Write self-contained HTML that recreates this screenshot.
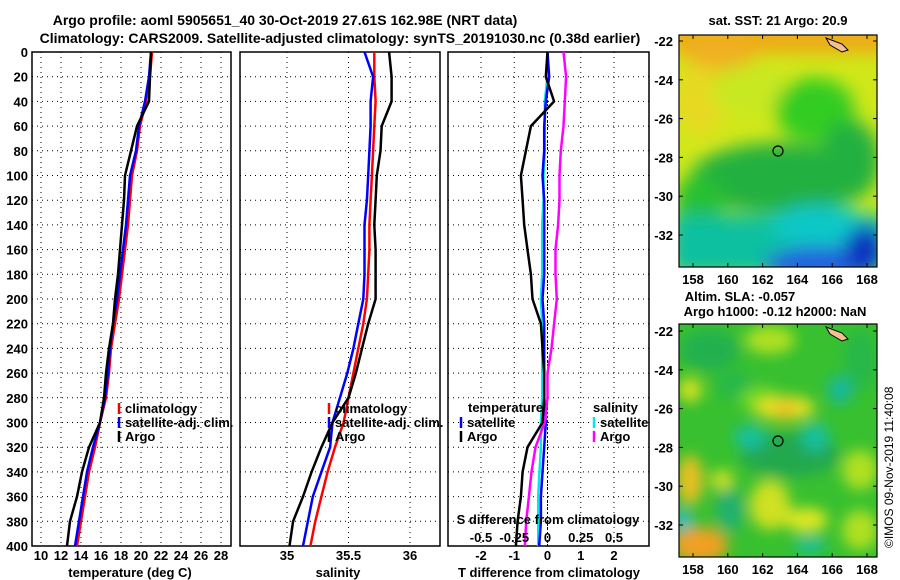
<!DOCTYPE html>
<html><head><meta charset="utf-8"><style>
html,body{margin:0;padding:0;background:#fff;}
svg{display:block;font-family:"Liberation Sans",Arial,sans-serif;font-weight:bold;}
</style></head><body>
<svg id="fig" width="900" height="580" viewBox="0 0 900 580" xmlns="http://www.w3.org/2000/svg">
<defs>
<filter id="blur1" x="-20%" y="-20%" width="140%" height="140%"><feGaussianBlur stdDeviation="9"/></filter>
<filter id="blur2" x="-20%" y="-20%" width="140%" height="140%"><feGaussianBlur stdDeviation="7"/></filter>
<clipPath id="clipM1"><rect x="679" y="35" width="198" height="232"/></clipPath>
<clipPath id="clipM2"><rect x="679" y="324" width="198" height="233"/></clipPath>
</defs>
<text x="285" y="25" font-size="14" text-anchor="middle">Argo profile: aoml 5905651_40 30-Oct-2019 27.61S 162.98E (NRT data)</text>
<text x="340" y="43" font-size="14" text-anchor="middle">Climatology: CARS2009. Satellite-adjusted climatology: synTS_20191030.nc (0.38d earlier)</text>

<g id="p1"></g>
<g id="p2"></g>
<g id="p3"></g>

<!-- SST map -->
<g>
<text x="778" y="25" font-size="13" text-anchor="middle">sat. SST: 21 Argo: 20.9</text>
<g clip-path="url(#clipM1)">
<rect x="679" y="35" width="198" height="232" fill="#d0e81a"/>
<g filter="url(#blur1)">
<rect x="670" y="25" width="220" height="28" fill="#f0a818"/>
<ellipse cx="720" cy="55" rx="35" ry="18" fill="#f0b020"/>
<ellipse cx="700" cy="100" rx="25" ry="35" fill="#e8d820"/>
<ellipse cx="750" cy="90" rx="40" ry="25" fill="#c8e820"/>
<ellipse cx="815" cy="110" rx="40" ry="32" fill="#30cc20"/>
<ellipse cx="780" cy="178" rx="90" ry="35" fill="#20b040"/>
<ellipse cx="850" cy="160" rx="30" ry="40" fill="#20b040"/>
<ellipse cx="700" cy="200" rx="25" ry="25" fill="#28c030"/>
<rect x="670" y="215" width="220" height="60" fill="#10c0a0"/>
<ellipse cx="820" cy="225" rx="50" ry="20" fill="#10c8c8"/>
<ellipse cx="820" cy="265" rx="55" ry="18" fill="#2060e0"/>
<ellipse cx="865" cy="250" rx="20" ry="25" fill="#1030c0"/>
</g>
<path d="M826,38 L842,44 L848,50 L842,52 L830,45 Z" fill="#f5c090" stroke="#000" stroke-width="1"/>
</g>
<rect x="679" y="35" width="198" height="232" fill="none" stroke="#000" stroke-width="1.2"/>
<circle cx="778" cy="151" r="5" fill="none" stroke="#000" stroke-width="1.2"/>
<g id="m1axes"></g>
</g>

<!-- SLA map -->
<g>
<text x="740" y="301" font-size="13" text-anchor="middle">Altim. SLA: -0.057</text>
<text x="775" y="316" font-size="13" text-anchor="middle">Argo h1000: -0.12 h2000: NaN</text>
<g clip-path="url(#clipM2)">
<rect x="679" y="324" width="198" height="233" fill="#38c030"/>
<g filter="url(#blur2)">
<ellipse cx="710" cy="350" rx="30" ry="20" fill="#20b050"/>
<ellipse cx="735" cy="385" rx="20" ry="14" fill="#28b848"/>
<ellipse cx="770" cy="340" rx="25" ry="14" fill="#b0e020"/>
<ellipse cx="760" cy="400" rx="20" ry="14" fill="#70d828"/>
<ellipse cx="785" cy="408" rx="30" ry="12" fill="#e8e020"/>
<ellipse cx="785" cy="410" rx="10" ry="8" fill="#f0b820"/>
<ellipse cx="790" cy="455" rx="50" ry="22" fill="#20a850"/>
<ellipse cx="750" cy="437" rx="16" ry="12" fill="#18c0a0"/>
<ellipse cx="815" cy="437" rx="14" ry="14" fill="#18c0a0"/>
<ellipse cx="840" cy="390" rx="12" ry="14" fill="#18b8a0"/>
<ellipse cx="690" cy="390" rx="12" ry="12" fill="#d8e020"/>
<ellipse cx="690" cy="480" rx="13" ry="25" fill="#e8c020"/>
<ellipse cx="722" cy="480" rx="12" ry="10" fill="#d0e020"/>
<ellipse cx="730" cy="510" rx="14" ry="22" fill="#20b070"/>
<ellipse cx="770" cy="505" rx="20" ry="25" fill="#d0e020"/>
<ellipse cx="806" cy="520" rx="22" ry="12" fill="#e0e820"/>
<ellipse cx="810" cy="545" rx="16" ry="8" fill="#18c0a0"/>
<ellipse cx="700" cy="545" rx="28" ry="18" fill="#f0a020"/>
<ellipse cx="683" cy="520" rx="8" ry="10" fill="#20b8e0"/>
<ellipse cx="860" cy="470" rx="18" ry="20" fill="#b0e020"/>
<ellipse cx="860" cy="530" rx="18" ry="20" fill="#b0e020"/>
<ellipse cx="860" cy="360" rx="16" ry="30" fill="#28b848"/>
</g>
<path d="M826,327 L842,333 L848,339 L842,341 L830,334 Z" fill="#f5c090" stroke="#000" stroke-width="1"/>
</g>
<rect x="679" y="324" width="198" height="233" fill="none" stroke="#000" stroke-width="1.2"/>
<circle cx="778" cy="441" r="5" fill="none" stroke="#000" stroke-width="1.2"/>
<g id="m2axes"></g>
</g>
<text x="0" y="0" font-size="12" font-weight="normal" transform="translate(893,548) rotate(-90)">©IMOS 09-Nov-2019 11:40:08</text>
</svg>
<script>
// ---- data ----
const depths = [0,20,40,60,80,100,120,140,160,180,200,220,240,260,280,300,320,340,360,380,400];
const tempArgo = [21.0,20.9,20.8,19.6,19.0,18.4,18.3,18.1,17.9,17.7,17.4,17.2,16.8,16.5,16.3,15.9,14.8,14.1,13.6,12.9,12.6];
const tempClim = [21.1,20.9,20.5,19.9,19.6,19.1,18.9,18.7,18.4,18.1,17.8,17.4,17.0,16.8,16.5,15.9,15.4,14.8,14.4,14.0,13.6];
const tempSat  = [21.0,20.8,20.4,19.8,19.5,18.9,18.7,18.5,18.2,17.9,17.6,17.2,16.9,16.7,16.4,15.9,15.2,14.6,14.2,13.8,13.4];
const salArgo = [35.83,35.85,35.85,35.77,35.76,35.73,35.72,35.71,35.72,35.72,35.72,35.66,35.61,35.56,35.50,35.37,35.28,35.20,35.13,35.05,35.02];
const salClim = [35.71,35.71,35.72,35.71,35.70,35.69,35.68,35.67,35.67,35.66,35.65,35.62,35.58,35.54,35.50,35.46,35.39,35.33,35.28,35.23,35.19];
const salSat  = [35.63,35.70,35.68,35.68,35.67,35.66,35.65,35.63,35.63,35.63,35.62,35.58,35.54,35.49,35.43,35.37,35.35,35.28,35.21,35.17,35.13];
const dTArgo = [0.0,-0.05,0.2,-0.5,-0.65,-0.8,-0.75,-0.7,-0.6,-0.5,-0.45,-0.2,-0.15,-0.1,-0.1,-0.15,-0.6,-0.75,-0.8,-0.9,-0.95];
const dTSat  = [0.0,0.05,-0.05,-0.1,-0.1,-0.15,-0.1,-0.1,-0.1,-0.1,-0.15,-0.1,-0.1,-0.1,-0.1,-0.05,-0.1,-0.15,-0.2,-0.2,-0.25];
const dSArgo = [0.12,0.14,0.13,0.12,0.1,0.09,0.09,0.08,0.06,0.06,0.07,0.05,0.03,0.0,0.0,-0.02,-0.09,-0.12,-0.14,-0.16,-0.17];
const dSSat  = [0.0,0.0,-0.02,-0.02,-0.02,-0.03,-0.03,-0.04,-0.04,-0.04,-0.05,-0.04,-0.04,-0.04,-0.04,-0.05,-0.05,-0.06,-0.07,-0.07,-0.07];
const depthTicks = [0,20,40,60,80,100,120,140,160,180,200,220,240,260,280,300,320,340,360,380,400];
const tempTicks = [10,12,14,16,18,20,22,24,26,28];
const salTicks = [35,35.5,36];
const dTTicks = [-2,-1,0,1,2];
const dSTicks = [-0.5,-0.25,0,0.25,0.5];
const lonTicks = [158,160,162,164,166,168];
const latTicks = [-22,-24,-26,-28,-30,-32];

const NS = "http://www.w3.org/2000/svg";
function mk(parent, tag, attrs, text){
  const e = document.createElementNS(NS, tag);
  for (const k in attrs) e.setAttribute(k, attrs[k]);
  if (text !== undefined) e.textContent = text;
  parent.appendChild(e);
  return e;
}
const Y0 = 52, Y1 = 546;
const yD = d => Y0 + d * (Y1 - Y0) / 400;
function linX(v0, x0, v1, x1){ return v => x0 + (v - v0) * (x1 - x0) / (v1 - v0); }

function panel(g, L, R, xScale, xTicks, xName){
  for (const d of depthTicks){
    const ln = mk(g,'line',{x1:L,x2:R,y1:yD(d),y2:yD(d),stroke:'#000','stroke-width':1,'stroke-dasharray':'1,4'});
    
    
  }
  for (const t of xTicks){
    const ln = mk(g,'line',{x1:xScale(t),x2:xScale(t),y1:Y0,y2:Y1,stroke:'#000','stroke-width':1,'stroke-dasharray':'1,4'});
    
    
  }
  const fr = mk(g,'rect',{x:L,y:Y0,width:R-L,height:Y1-Y0,fill:'none',stroke:'#000','stroke-width':1.5});
  
  
}
function series(g, xs, xScale, color, name, w){
  const pts = depths.map((d,i)=> xScale(xs[i]).toFixed(1)+','+yD(d).toFixed(1)).join(' ');
  const p = mk(g,'polyline',{points:pts,fill:'none',stroke:color,'stroke-width':w||2.5,'stroke-linejoin':'round'});
  
  
}
function legendEntry(g, x, y, color, label, name){
  const m = mk(g,'line',{x1:x,x2:x,y1:y-10,y2:y+1,stroke:color,'stroke-width':2.5});
  
  
  const t = mk(g,'text',{x:x+6,y:y,'font-size':13},label);
  
  
}

// Panel 1 temperature
const p1 = document.getElementById('p1');
const xT = linX(10,41,28,221);
panel(p1,32,231,xT,tempTicks,'temperature');
for (const d of depthTicks){
  const t = mk(p1,'text',{x:28,y:yD(d)+5,'font-size':13,'text-anchor':'end'},String(d));
  
  
}
for (const v of tempTicks){
  const t = mk(p1,'text',{x:xT(v),y:560,'font-size':13,'text-anchor':'middle'},String(v));
  
  
}
let at = mk(p1,'text',{x:130,y:577,'font-size':13,'text-anchor':'middle'},'temperature (deg C)');


series(p1,tempClim,xT,'#ff0000','temperature-climatology-line');
series(p1,tempSat,xT,'#0000ff','temperature-satellite-line');
series(p1,tempArgo,xT,'#000000','temperature-argo-line');
legendEntry(p1,119,413,'#ff0000','climatology','legend-climatology');
legendEntry(p1,119,427,'#0000ff','satellite-adj. clim.','legend-satellite-adj');
legendEntry(p1,119,441,'#000000','Argo','legend-argo');

// Panel 2 salinity
const p2 = document.getElementById('p2');
const xS = linX(35,287,36,410);
panel(p2,240,440,xS,salTicks,'salinity');
for (const v of salTicks){
  const t = mk(p2,'text',{x:xS(v),y:560,'font-size':13,'text-anchor':'middle'},String(v));
  
  
}
at = mk(p2,'text',{x:338,y:577,'font-size':13,'text-anchor':'middle'},'salinity');


series(p2,salClim,xS,'#ff0000','salinity-climatology-line');
series(p2,salSat,xS,'#0000ff','salinity-satellite-line');
series(p2,salArgo,xS,'#000000','salinity-argo-line');
legendEntry(p2,329,413,'#ff0000','climatology','legend-climatology');
legendEntry(p2,329,427,'#0000ff','satellite-adj. clim.','legend-satellite-adj');
legendEntry(p2,329,441,'#000000','Argo','legend-argo');

// Panel 3 differences
const p3 = document.getElementById('p3');
const xdT = linX(-2,481,2,614);
const xdS = linX(-0.5,481,0.5,614);
panel(p3,448,649,xdT,dTTicks,'difference');
const zl = mk(p3,'line',{x1:xdT(0),x2:xdT(0),y1:Y0,y2:Y1,stroke:'#000','stroke-width':1,'stroke-dasharray':'2,2'});


series(p3,dSSat,xdS,'#00e8e8','salinity-satellite-diff-line');
series(p3,dTSat,xdT,'#0000ff','temperature-satellite-diff-line');
series(p3,dSArgo,xdS,'#ff00ff','salinity-argo-diff-line');
series(p3,dTArgo,xdT,'#000000','temperature-argo-diff-line');
for (const v of dTTicks){
  const t = mk(p3,'text',{x:xdT(v),y:560,'font-size':13,'text-anchor':'middle'},String(v));
  
  
}
for (const v of dSTicks){
  const t = mk(p3,'text',{x:xdS(v),y:542,'font-size':13,'text-anchor':'middle'},String(v));
  
  
}
at = mk(p3,'text',{x:548,y:524,'font-size':13,'text-anchor':'middle'},'S difference from climatology');


at = mk(p3,'text',{x:549,y:577,'font-size':13,'text-anchor':'middle'},'T difference from climatology');


at = mk(p3,'text',{x:468,y:412,'font-size':13},'temperature');


at = mk(p3,'text',{x:593,y:412,'font-size':13},'salinity');


legendEntry(p3,461,427,'#0000ff','satellite','legend-temp-satellite');
legendEntry(p3,461,441,'#000000','Argo','legend-temp-argo');
legendEntry(p3,594,427,'#00e8e8','satellite','legend-sal-satellite');
legendEntry(p3,594,441,'#ff00ff','Argo','legend-sal-argo');

// Map axes
function mapAxes(id, top, bottom, latTop, latBot, lonLabelY){
  const g = document.getElementById(id);
  const xL = linX(158,693,168,867);
  const yL = linX(-22,latTop,-32,latBot);
  for (const v of lonTicks){
    mk(g,'line',{x1:xL(v),x2:xL(v),y1:top,y2:top+4,stroke:'#000'});
    mk(g,'line',{x1:xL(v),x2:xL(v),y1:bottom,y2:bottom-4,stroke:'#000'});
    const t = mk(g,'text',{x:xL(v),y:lonLabelY,'font-size':13,'text-anchor':'middle'},String(v));
    
    
  }
  for (const v of latTicks){
    mk(g,'line',{x1:679,x2:683,y1:yL(v),y2:yL(v),stroke:'#000'});
    mk(g,'line',{x1:877,x2:873,y1:yL(v),y2:yL(v),stroke:'#000'});
    const t = mk(g,'text',{x:673,y:yL(v)+5,'font-size':13,'text-anchor':'end'},String(v));
    
    
  }
}
mapAxes('m1axes',35,267,41,235,284);
mapAxes('m2axes',324,557,331,525,574);
</script>
</body></html>
